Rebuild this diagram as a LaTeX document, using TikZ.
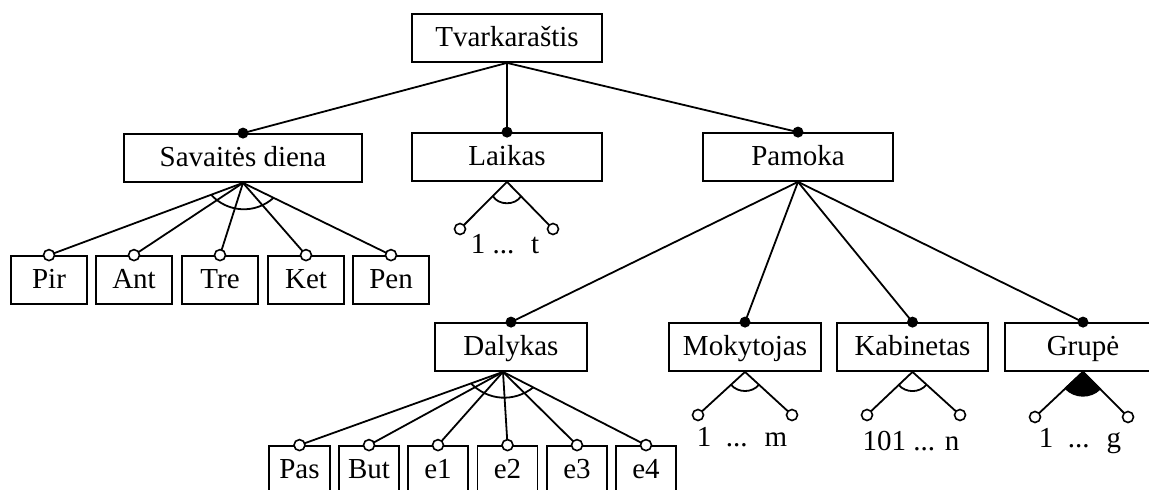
\documentclass[tikz,border=0pt]{standalone}
\usepackage{fontspec}
\setmainfont{Liberation Serif}
\usetikzlibrary{calc}
% arc across a fan of branches: apex, first branch, last branch, distance, bend
\newcommand\fanarc[6][]{\draw[link,#1] ($(#2)!#5!(#3)$) to[bend right=#6] ($(#2)!#5!(#4)$);}
\begin{document}
\begin{tikzpicture}[x=1pt,y=-1pt,
  box/.style={draw, line width=1.8pt, inner sep=0pt, minimum height=48pt,
    text height=20pt, text depth=4pt, font=\fontsize{29}{34}\selectfont},
  link/.style={line width=1.8pt},
  lbl/.style={anchor=base, inner sep=0pt, font=\fontsize{29}{34}\selectfont},
  hole/.style={draw, fill=white, line width=1.6pt},
]
\useasboundingbox (0,0) rectangle (1149,490);
\clip (0,0) rectangle (1149,490);

% boxes
\node[box, minimum width=190pt] (t)  at (507,38)  {Tvarkaraštis};
\node[box, minimum width=238pt] (sd) at (243,158) {Savaitės diena};
\node[box, minimum width=190pt] (la) at (507,157) {Laikas};
\node[box, minimum width=190pt] (pa) at (798,157) {Pamoka};

\node[box, minimum width=76pt] (pir) at (49,280)  {Pir};
\node[box, minimum width=76pt] (ant) at (134,280) {Ant};
\node[box, minimum width=76pt] (tre) at (220,280) {Tre};
\node[box, minimum width=76pt] (ket) at (306,280) {Ket};
\node[box, minimum width=76pt] (pen) at (391,280) {Pen};

\node[box, minimum width=152pt] (da) at (511,347)   {Dalykas};
\node[box, minimum width=152pt] (mo) at (745,347)   {Mokytojas};
\node[box, minimum width=151pt] (ka) at (912.5,347) {Kabinetas};
\node[box, minimum width=156pt] (gr) at (1083,347)  {Grupė};

\node[box, minimum width=61pt] (pas) at (299.5,470) {Pas};
\node[box, minimum width=60pt] (but) at (369,470)   {But};
\node[box, minimum width=60pt] (e1)  at (438,470)   {e1};
\node[box, minimum width=60pt] (e2)  at (507.5,470) {e2};
\node[box, minimum width=60pt] (e3)  at (577,470)   {e3};
\node[box, minimum width=60pt] (e4)  at (646,470)   {e4};

% value ranges
\node[lbl] (lt) at (505,253)  {1 ...~ t};
\node[lbl] (mm) at (742,446)  {1~ ...~ m};
\node[lbl] (kn) at (911,450)  {101 ... n};
\node[lbl] (gg) at (1080,447) {1~ ...~ g};

% free ends of the range branches
\coordinate (l1) at (460,229);  \coordinate (l2) at (553,229);
\coordinate (m1) at (698,415);  \coordinate (m2) at (792,415);
\coordinate (k1) at (867,415);  \coordinate (k2) at (960,415);
\coordinate (g1) at (1035,417); \coordinate (g2) at (1128,417);
\coordinate (dap) at ($(da.south)+(-8,0)$);

% mandatory sub-features
\foreach \c in {sd,la,pa} \draw[link] (t.south) -- (\c.north);
\foreach \c in {da,mo,ka,gr} \draw[link] (pa.south) -- (\c.north);
\foreach \c in {sd,la,pa,da,mo,ka,gr} \fill (\c.north) circle[radius=5.5pt];

% days of the week
\foreach \c in {pir,ant,tre,ket,pen} \draw[link] (sd.south) -- (\c.north);
\fanarc{sd.south}{pir.north}{pen.north}{34pt}{45}

% subjects
\foreach \c in {pas,but,e1,e2,e3,e4} \draw[link] (dap) -- (\c.north);
\fanarc{dap}{pas.north}{e4.north}{34pt}{42}

% ranges
\draw[link] (l1) -- (la.south) -- (l2);
\fanarc{la.south}{l1}{l2}{20pt}{60}
\draw[link] (m1) -- (mo.south) -- (m2);
\fanarc{mo.south}{m1}{m2}{19pt}{50}
\draw[link] (k1) -- (ka.south) -- (k2);
\fanarc{ka.south}{k1}{k2}{19pt}{50}
\draw[link] (g1) -- (gr.south) -- (g2);
\filldraw[link] (gr.south) -- ($(gr.south)!24pt!(g1)$) to[bend right=45] ($(gr.south)!24pt!(g2)$) -- cycle;

% open ends
\foreach \c in {pir,ant,tre,ket,pen,pas,but,e1,e2,e3,e4}
  \filldraw[hole] (\c.north) circle[radius=5.5pt];
\foreach \c in {l1,l2,m1,m2,k1,k2,g1,g2}
  \filldraw[hole] (\c) circle[radius=5.5pt];
\end{tikzpicture}
\end{document}
